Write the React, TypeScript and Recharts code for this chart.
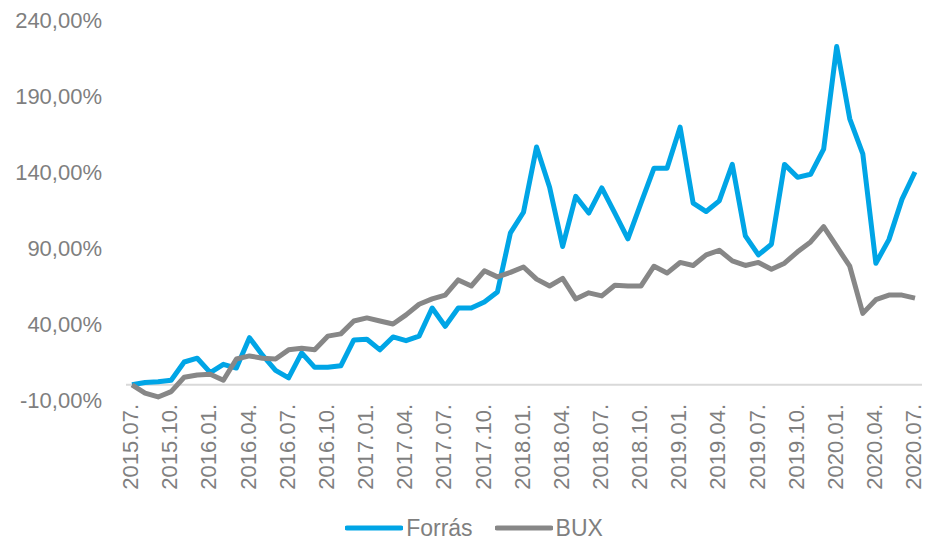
import React from "react";
import {
    LineChart,
    Line,
    XAxis,
    YAxis,
    ReferenceLine,
    Legend,
} from "recharts";

const months = [
    "2015.07.", "2015.08.", "2015.09.", "2015.10.", "2015.11.", "2015.12.",
    "2016.01.", "2016.02.", "2016.03.", "2016.04.", "2016.05.", "2016.06.",
    "2016.07.", "2016.08.", "2016.09.", "2016.10.", "2016.11.", "2016.12.",
    "2017.01.", "2017.02.", "2017.03.", "2017.04.", "2017.05.", "2017.06.",
    "2017.07.", "2017.08.", "2017.09.", "2017.10.", "2017.11.", "2017.12.",
    "2018.01.", "2018.02.", "2018.03.", "2018.04.", "2018.05.", "2018.06.",
    "2018.07.", "2018.08.", "2018.09.", "2018.10.", "2018.11.", "2018.12.",
    "2019.01.", "2019.02.", "2019.03.", "2019.04.", "2019.05.", "2019.06.",
    "2019.07.", "2019.08.", "2019.09.", "2019.10.", "2019.11.", "2019.12.",
    "2020.01.", "2020.02.", "2020.03.", "2020.04.", "2020.05.", "2020.06.",
    "2020.07.",
];

const forras = [
    0, 1.5, 2, 3, 15, 17.5, 8, 13.5, 11, 31, 19.5, 9.5,
    4.5, 21, 11.5, 11.5, 12.5, 29.5, 30, 23, 31.5, 29, 32, 50.5,
    38.5, 50.5, 50.5, 54.5, 61, 100, 113.5, 156.5, 130, 91, 124, 113,
    129.5, 113, 96, 119.5, 142.5, 142.5, 169.5, 119.5, 114, 121, 145, 98,
    85.5, 92.5, 145, 136.5, 138.5, 155, 222.5, 175, 152, 80, 95.5, 122,
    140,
];

const bux = [
    0, -5.5, -8, -4.5, 5, 6.5, 7, 3, 17, 19, 17.5, 17,
    23, 24, 23, 32, 33.5, 42, 44, 42, 40, 46, 53, 56.5,
    59, 69, 65, 75, 71, 74, 77.5, 69.5, 65, 70, 56.5, 60.5,
    58.5, 65.5, 65, 65, 78, 73.5, 80.5, 78.5, 85.5, 88.5, 81.5, 78.5,
    80.5, 76, 80, 87.5, 94, 104, 91, 78, 47, 56, 59, 59,
    57,
];

const yTicks = [-10, 40, 90, 140, 190, 240];

const BLUE = "#00a5e6";
const GRAY = "#878787";
const TEXT = "#7f7f7f";
const FONT = "'Liberation Sans', Arial, sans-serif";

const data = months.map((m, i) => ({ month: m, forras: forras[i], bux: bux[i] }));

const fmt = (v: number) => v.toFixed(2).replace(".", ",") + "%";

function MonthTick({ x, y, payload }: any) {
    return (
        <text
            x={x}
            y={y}
            transform={`rotate(-90, ${x}, ${y})`}
            textAnchor="end"
            dy="0.28em"
            fill={TEXT}
            fontSize={22}
            fontFamily={FONT}
        >
            {payload.value}
        </text>
    );
}

function LegendBox() {
    const items = [
        { name: "Forrás", color: BLUE },
        { name: "BUX", color: GRAY },
    ];
    return (
        <div style={{ display: "flex", justifyContent: "center", alignItems: "center", height: 46, boxSizing: "border-box", paddingTop: 20, paddingLeft: 26, gap: 22 }}>
            {items.map((it) => (
                <div key={it.name} style={{ display: "flex", alignItems: "center" }}>
                    <svg width={58} height={10}>
                        <line x1={2} y1={5} x2={56} y2={5} stroke={it.color} strokeWidth={5} strokeLinecap="round" />
                    </svg>
                    <span style={{ marginLeft: 3, color: TEXT, fontSize: 23, fontFamily: FONT }}>{it.name}</span>
                </div>
            ))}
        </div>
    );
}

export default function App() {
    return (
        <div style={{ position: "absolute", left: 0, top: 0, width: 927, height: 541, background: "#fff" }}>
            <LineChart width={927} height={541} data={data} margin={{ top: 20, right: 5, left: 0, bottom: 0 }}>
                <XAxis
                    dataKey="month"
                    interval={2}
                    axisLine={false}
                    tickLine={false}
                    tickSize={0}
                    tickMargin={4}
                    height={95}
                    padding={{ left: 6, right: 7 }}
                    tick={<MonthTick />}
                />
                <YAxis
                    domain={[-10, 240]}
                    ticks={yTicks}
                    width={126}
                    axisLine={false}
                    tickLine={false}
                    tickSize={0}
                    tickMargin={24}
                    tickFormatter={fmt}
                    tick={{ fill: TEXT, fontSize: 22, fontFamily: FONT }}
                />
                <ReferenceLine y={0} stroke="#d9d9d9" strokeWidth={2} />
                <Line dataKey="forras" name="Forrás" stroke={BLUE} strokeWidth={5} dot={false} isAnimationActive={false} strokeLinejoin="round" />
                <Line dataKey="bux" name="BUX" stroke={GRAY} strokeWidth={5} dot={false} isAnimationActive={false} strokeLinejoin="round" />
                <Legend verticalAlign="bottom" content={<LegendBox />} />
            </LineChart>
        </div>
    );
}
